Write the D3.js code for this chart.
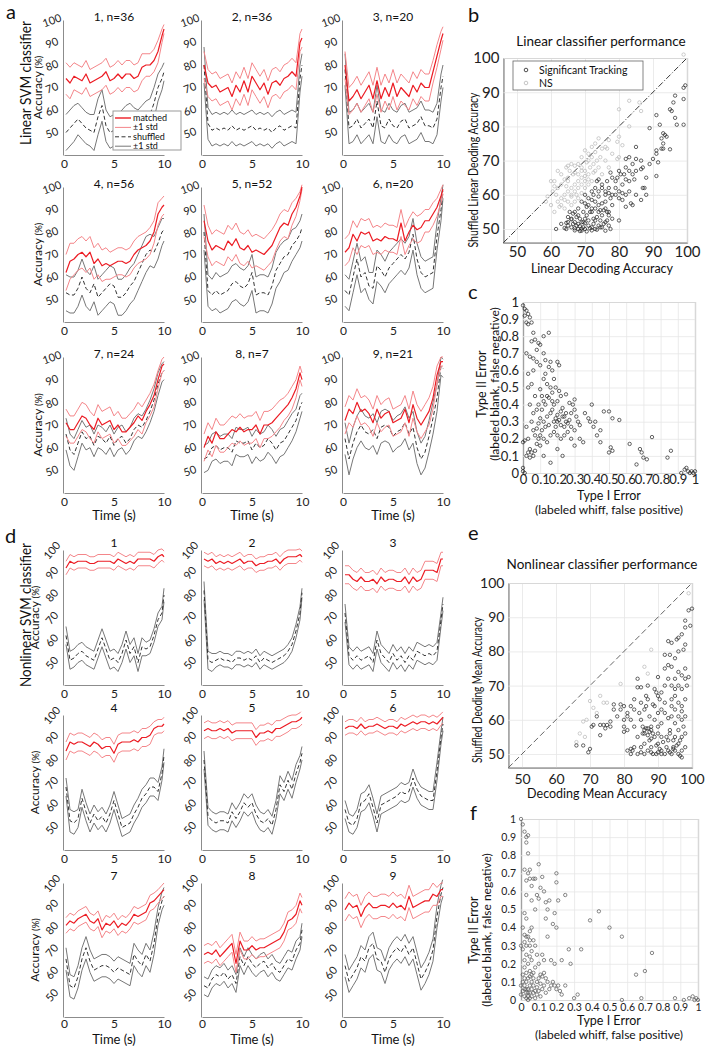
<!DOCTYPE html>
<html>
<head>
<meta charset="utf-8">
<script src="https://cdn.jsdelivr.net/npm/d3@7/dist/d3.min.js"></script>
<style>
  body { margin: 0; background: #fff; }
  svg { display: block; font-family: Lato, "Open Sans", sans-serif; }
</style>
</head>
<body>
<svg id="fig" width="711" height="1050"></svg>
<script>
// ---------- data ----------
const timeS = [0.2,0.6,1.0,1.4,1.8,2.2,2.6,3.0,3.4,3.8,4.2,4.6,5.0,5.4,5.8,6.2,6.6,7.0,7.4,7.8,8.2,8.6,9.0,9.4,9.8,10.0];
const linTitles = ["1, n=36","2, n=36","3, n=20","4, n=56","5, n=52","6, n=20","7, n=24","8, n=7","9, n=21"];
const nonTitles = ["1","2","3","4","5","6","7","8","9"];
const accTicks = [50,60,70,80,90,100];
const timeTicks = [0,5,10];

const linMatchedMean = [
  [74,72,75,74,73,76,72,73,74,75,77,73,74,76,74,76,76,74,75,79,80,80,82,86,93,96],
  [80,72,70,71,68,69,70,66,71,68,73,68,75,72,69,72,67,72,73,71,74,75,77,75,90,92],
  [80,64,66,69,65,68,71,65,73,65,70,66,72,66,70,68,66,71,68,72,70,70,77,84,91,94],
  [62,67,68,70,71,69,71,66,68,65,66,65,66,67,67,66,67,70,72,73,74,76,80,88,91,92],
  [85,76,72,74,73,72,76,74,77,73,72,74,71,72,71,70,72,74,78,82,84,83,88,91,96,100],
  [71,73,79,76,80,79,80,76,77,76,78,77,77,76,84,76,80,83,81,82,85,85,88,91,96,99],
  [71,68,68,71,74,73,70,68,73,70,71,72,68,70,67,67,69,71,74,72,76,79,83,90,96,97],
  [60,65,62,67,64,64,66,68,67,69,67,68,68,70,66,70,70,71,73,75,77,79,82,86,93,90],
  [72,77,75,80,76,77,75,71,77,73,75,76,71,72,73,77,71,79,73,70,73,76,82,92,98,98]
];
const linMatchedStd = [
  [7,7,6,6,6,6,6,6,6,6,6,6,6,6,6,6,6,6,6,6,5,5,5,5,3,2],
  [6,6,6,6,6,6,6,6,6,6,6,6,6,6,6,6,6,6,6,6,6,6,6,6,4,4],
  [6,6,6,6,6,6,6,6,6,6,6,6,6,6,6,6,6,6,6,6,6,6,5,5,4,3],
  [8,8,7,7,7,7,7,7,7,7,7,6,6,6,6,6,6,6,6,6,6,6,5,5,4,4],
  [7,7,7,7,7,7,7,7,7,7,7,7,7,7,7,7,7,7,6,6,6,6,5,4,2,1],
  [6,6,6,6,6,6,6,6,6,6,6,6,6,6,6,6,6,6,6,6,5,5,5,4,3,2],
  [6,6,6,6,6,6,6,6,6,6,6,6,6,6,6,6,6,6,6,6,5,5,5,4,3,3],
  [6,6,6,6,6,6,6,6,6,6,6,6,6,6,6,6,6,6,6,6,5,5,5,4,3,3],
  [6,6,6,6,6,6,6,6,6,6,6,6,6,6,6,6,6,6,6,6,6,6,5,4,2,2]
];
const linShuffledMean = [
  [50,52,54,56,54,52,51,50,57,62,53,50,51,51,53,55,56,54,53,55,57,58,63,70,74,77],
  [80,54,51,52,51,52,51,53,51,52,51,52,53,51,52,51,52,50,52,53,51,52,53,52,74,80],
  [78,52,53,56,52,54,56,52,64,53,52,56,53,52,55,56,52,53,54,57,53,53,52,56,70,75],
  [53,52,52,55,60,55,53,57,51,53,55,57,56,51,51,53,56,58,62,66,70,72,71,75,80,81],
  [80,54,52,54,52,53,54,57,58,56,55,57,62,52,53,53,52,56,63,66,69,70,74,76,79,82],
  [54,52,60,68,60,62,56,55,65,63,60,64,66,68,70,68,71,79,68,62,60,61,62,78,90,98],
  [66,59,57,62,67,64,65,61,65,64,62,65,61,64,65,62,64,68,70,69,72,76,81,88,93,94],
  [55,56,60,61,59,60,60,58,63,62,62,63,59,62,60,61,64,62,59,62,63,66,69,72,78,80],
  [64,55,62,67,70,67,66,68,64,69,70,69,65,67,68,71,66,69,60,55,58,65,73,82,96,95]
];
const linShuffledStd = [
  [8,8,8,7,7,7,7,8,8,7,7,7,7,7,7,7,7,7,7,7,7,7,7,6,5,4],
  [8,7,7,7,7,7,7,7,7,7,7,7,7,7,7,7,7,7,7,7,7,7,7,7,6,5],
  [7,7,7,7,7,7,7,7,7,7,7,7,7,7,7,7,7,7,7,7,7,7,7,7,6,5],
  [8,8,8,8,8,8,8,8,8,8,8,8,8,8,8,8,8,8,8,8,8,7,7,7,6,5],
  [8,7,7,8,8,8,8,8,8,8,8,8,8,8,8,8,8,8,8,8,7,7,7,6,6,6],
  [7,7,7,7,7,7,6,7,7,7,7,7,7,7,7,7,7,7,7,7,7,7,7,6,5,3],
  [7,7,7,6,5,5,5,5,5,5,5,5,5,5,5,5,5,5,5,5,5,5,5,5,4,4],
  [6,6,6,6,6,6,6,6,6,6,6,6,6,6,6,6,6,6,6,6,6,6,6,5,5,4],
  [7,7,7,7,7,7,7,7,7,7,7,7,7,7,7,7,7,7,7,7,7,7,7,6,4,4]
];

const nonMatchedMean = [
  [92,95,94,95,95,95,94,94,95,95,95,95,94,96,95,94,95,94,96,96,96,96,95,97,98,97],
  [96,95,96,94,95,94,95,94,95,96,94,95,95,93,94,94,95,95,96,94,96,97,97,97,98,97],
  [89,89,87,86,88,86,86,87,85,88,86,87,87,86,86,88,85,88,86,87,91,91,91,90,96,96],
  [84,88,87,88,88,87,86,88,87,85,86,86,83,87,88,88,88,89,88,90,90,91,94,95,95,96],
  [93,94,93,93,94,93,94,92,93,93,93,93,93,90,92,92,93,92,94,94,95,96,97,97,98,99],
  [94,95,95,94,96,94,95,95,96,95,94,95,95,94,96,95,96,97,96,97,97,96,97,96,98,99],
  [81,83,82,84,85,86,83,82,84,79,82,81,83,80,82,81,83,86,85,86,87,91,92,94,96,97],
  [68,69,68,70,67,69,71,73,64,74,70,70,72,70,71,71,72,73,74,75,78,83,84,86,92,90],
  [88,91,89,90,85,89,91,89,89,90,90,89,91,89,90,88,94,89,90,91,92,92,95,94,97,97]
];
const nonMatchedStd = [
  [3,3,3,3,3,3,3,3,3,3,3,3,3,3,3,3,3,3,3,3,3,3,3,3,2.5,2.5],
  [3,3,3,3,3,3,3,3,3,3,3,3,3,3,3,3,3,3,3,3,3,3,3,3,2.5,2.5],
  [4,4,4,4,4,4,4,4,4,4,4,4,4,4,4,4,4,4,4,4,4,4,4,4,3,3],
  [4,4,4,4,4,4,4,4,4,4,4,4,4,4,4,4,4,4,4,4,4,4,3,3,3,3],
  [3.5,3.5,3.5,3.5,3.5,3.5,3.5,3.5,3.5,3.5,3.5,3.5,3.5,3.5,3.5,3.5,3.5,3.5,3.5,3.5,3.5,3.5,3,3,3,3],
  [3,3,3,3,3,3,3,3,3,3,3,3,3,3,3,3,3,3,3,3,3,3,3,3,2.5,2.5],
  [3.5,3.5,3.5,3.5,3.5,3.5,3.5,3.5,3.5,3.5,3.5,3.5,3.5,3.5,3.5,3.5,3.5,3.5,3.5,3.5,3.5,3.5,3.5,3,3,3],
  [4,4,4,4,4,4,4,4,4,4,4,4,4,4,4,4,4,4,4,4,4,4,4,4,3.5,3.5],
  [5,5,5,5,5,5,5,5,5,5,5,5,5,5,5,5,5,5,5,5,5,5,5,4,3,3]
];
const nonShuffledMean = [
  [62,51,52,54,55,53,52,51,56,61,56,51,52,50,54,60,54,57,50,57,56,57,62,69,72,80],
  [82,51,50,51,52,51,51,50,52,52,51,52,51,53,50,52,51,50,51,52,53,55,58,64,72,81],
  [72,53,51,53,51,52,53,50,60,54,52,50,54,51,53,50,53,51,55,54,53,54,53,55,69,76],
  [68,53,52,54,63,57,52,56,53,55,52,56,62,56,50,51,52,56,59,63,65,68,68,66,74,82],
  [80,55,53,52,53,53,52,57,54,57,61,59,61,56,53,52,54,51,58,69,66,71,67,74,79,83],
  [58,52,51,54,61,62,65,59,52,60,61,62,63,64,66,65,66,72,67,64,63,62,62,75,90,96],
  [66,54,53,58,66,71,65,61,62,63,63,62,60,62,61,60,59,68,65,63,68,65,73,85,92,94],
  [54,53,57,59,58,60,57,59,55,67,63,67,64,62,64,65,62,64,61,60,63,66,65,70,73,79],
  [63,56,59,62,67,65,71,73,66,65,60,66,69,71,69,72,68,71,64,57,60,64,70,85,95,98]
];
const nonShuffledStd = [
  [4,4,4,4,4,4,4,4,4,4,4,4,4,4,4,4,4,4,4,4,3,3,3,3,3,3],
  [4,4,4,3,3,3,3,3,3,3,3,3,3,3,3,3,3,3,3,3,3,3,3,3,3,2],
  [4,4,4,4,4,4,4,4,4,4,4,4,4,4,4,4,4,4,4,4,4,4,4,4,3,3],
  [4,5,5,4,4,4,4,4,4,4,4,4,4,4,4,4,4,4,4,4,4,4,4,4,3,3],
  [4,4,4,4,4,4,4,4,4,4,4,4,4,4,4,4,4,4,4,4,4,4,4,4,3,3],
  [4,4,4,4,4,4,4,4,4,4,4,4,4,4,4,4,4,4,4,4,4,4,4,4,3,3],
  [5,5,5,5,5,5,5,5,5,5,5,5,5,5,5,5,5,5,5,5,5,5,5,4,4,4],
  [4,4,4,4,4,4,4,4,4,4,4,4,4,4,4,4,4,4,4,4,4,4,4,4,3,3],
  [5,5,5,5,5,5,5,5,5,5,5,5,5,5,5,5,5,5,5,5,5,5,5,5,4,4]
];

// panel b: linear decoding vs shuffled
const linSig = [[99.5,92],[99,91.3],[96.5,89],[96,87],[99,88],[95,85],[95.5,84.5],[96.5,82.5],[97,80.5],[99,80.5],[91,83.3],[89,79.5],[92,80.5],[93,78],[93.5,77.5],[92.5,76.5],[94,77],[93,75],[91,73],[91,72],[92.5,73.5],[93,73.5],[95,73.3],[91.5,69.5],[90,70.5],[89,69],[91,65.5],[88,65],[87,68],[86.5,67.5],[85,74],[86.5,70],[82,70.5],[83,71],[84,66],[85,67],[80,67],[79.5,65],[80.5,66],[81.5,66],[81,63],[82,64.5],[83,64],[84.5,64.5],[87,62],[87.5,62],[86.5,58.5],[83,61],[82,60],[81,58.5],[83.5,57.5],[82,56.5],[80,52.5],[79,64],[78,65],[77.5,66.5],[76.5,64],[77,62],[76,61],[78,60],[79,62],[77.5,59],[76,58],[75,62],[74,61],[73.5,64],[72.5,60],[73,58],[72,58.5],[71,57],[71.5,55],[72,56],[72.5,53],[73,52.5],[74,55],[74.5,55.5],[75,54],[76,52],[77,51],[76,49.5],[77.5,50],[75,50.5],[74,51],[73,50],[72,50.5],[71,51],[70,50],[69.5,50.5],[69,49.5],[68,50],[67,50.2],[66,50.5],[65,51],[64.5,50],[64,50.3],[61.5,50],[63,51.5],[65,52],[66,53],[67,52],[68,51.5],[69,52],[70,53],[70.5,54],[71,52.5],[69.5,55],[68,54],[67,55],[66,52.8],[65,53.5],[64.5,51.8],[66.5,51.5],[67.5,51],[68.5,50.8],[70,51.7],[71.5,50.2],[72.5,51.5],[73.5,53.5],[74.5,52.5],[75.5,55.5],[74,57],[73,56],[72,55],[70.5,56.5],[70,57.5],[71,59],[72,61],[73,62],[74,59.5],[75,57.5],[76,56],[77,55],[78,53],[77,54],[76.5,55],[69.5,52],[68.5,53],[67.5,53.5],[66.5,54.5],[65.5,55],[68,56],[69,58],[70,60],[69,50.1],[67,49.6],[68.5,49.4],[70.5,49.3],[72,49.6],[73.5,49.8],[74.5,50.5],[75.5,51.5],[76.5,52.5],[74,64.5],[75,63],[76,60],[77,60.5],[78,57],[79,60],[80,61],[80,59],[81,60.5],[84,57],[85,60],[88,60],[83,67],[82,68],[84,69],[85,70.5]];
const linNS = [[99,101],[80,85],[83,87.5],[86,87],[86.5,84.5],[83,80],[80,77],[79.5,75.5],[81,74.5],[80,71],[79.5,70.5],[77,76],[76,74],[75,73.5],[76.5,73.5],[74,76.5],[73,75],[72,74],[73,72.5],[72,71],[71,72],[70,73],[69,71],[70.5,69.5],[71.5,68],[72.5,69],[73.5,70],[74.5,71],[74,68],[72.5,66.5],[71,66],[70,67],[69,68],[68,69],[67,68.5],[66,69],[65,68.5],[64.5,68],[65.5,67],[66.5,66],[65,65],[64,64.5],[64.5,62.5],[63,63],[62,62],[61,64],[60,64],[60.5,61],[61.5,60],[62,58],[63,59],[64,60],[65,61],[66,62],[67,63],[68,64],[69,65],[70,64],[71,63],[68,62],[67,61],[66,59.5],[65,58],[67,58],[68,59],[69,60.5],[66,57],[64,56],[60,57],[59,59.5],[58.5,58],[61,55],[62.5,56.5],[63,57],[65,64],[67,66.5],[68,66],[69,67],[70,65.5],[71,64.5],[72,64],[62,67],[63,66],[66,60],[64,58.5],[67.5,60],[70,62],[69,63],[61,62.5],[71,70],[73,67],[75,66],[77,68],[78,72],[76,70]];

// panel c: linear type I / type II errors
const linErr = [[0,0.98],[0.01,0.96],[0.02,0.95],[0.03,0.93],[0.01,0.92],[0.04,0.91],[0.02,0.88],[0.03,0.87],[0.05,0.88],[0.06,0.82],[0.07,0.78],[0.05,0.77],[0.09,0.76],[0.08,0.72],[0.1,0.75],[0.12,0.8],[0.02,0.7],[0.04,0.68],[0.06,0.67],[0.03,0.58],[0.06,0.6],[0.08,0.65],[0.1,0.63],[0.12,0.7],[0.13,0.66],[0.15,0.62],[0.16,0.65],[0.17,0.6],[0.2,0.65],[0.21,0.63],[0.18,0.55],[0.12,0.55],[0.13,0.58],[0.14,0.52],[0.16,0.5],[0.1,0.49],[0.11,0.45],[0.12,0.42],[0.13,0.4],[0.15,0.44],[0.17,0.47],[0.19,0.5],[0.21,0.48],[0.22,0.45],[0.2,0.42],[0.18,0.4],[0.17,0.37],[0.16,0.35],[0.14,0.33],[0.12,0.3],[0.1,0.32],[0.08,0.37],[0.09,0.4],[0.07,0.45],[0.05,0.52],[0.03,0.5],[0.04,0.4],[0.06,0.35],[0.05,0.3],[0.02,0.27],[0.03,0.2],[0.01,0.19],[0,0.18],[0.02,0.1],[0.05,0.12],[0.04,0.09],[0.06,0.1],[0.07,0.13],[0.08,0.17],[0.09,0.2],[0.1,0.22],[0.11,0.25],[0.13,0.27],[0.15,0.28],[0.18,0.3],[0.19,0.32],[0.2,0.34],[0.22,0.36],[0.23,0.38],[0.24,0.33],[0.25,0.3],[0.26,0.29],[0.27,0.31],[0.28,0.35],[0.29,0.4],[0.3,0.37],[0.31,0.33],[0.32,0.3],[0.33,0.28],[0.3,0.25],[0.28,0.27],[0.26,0.24],[0.24,0.22],[0.22,0.2],[0.2,0.22],[0.18,0.24],[0.16,0.22],[0.14,0.18],[0.12,0.2],[0.1,0.16],[0.07,0.22],[0.08,0.26],[0.12,0.1],[0.16,0.06],[0.2,0.14],[0.23,0.1],[0.28,0.2],[0.3,0.16],[0.33,0.2],[0.35,0.18],[0.36,0.35],[0.38,0.32],[0.39,0.3],[0.4,0.4],[0.42,0.3],[0.41,0.27],[0.43,0.22],[0.45,0.25],[0.45,0.18],[0.47,0.36],[0.5,0.12],[0.51,0.15],[0.52,0.13],[0.5,0.36],[0.52,0.32],[0.56,0.31],[0.62,0.17],[0.66,0.05],[0.68,0.14],[0.69,0.12],[0.7,0.09],[0.72,0.08],[0.75,0.21],[0.84,0.09],[0.86,0.13],[0.92,0],[0.94,0.02],[0.95,0.03],[0.96,0.01],[0.97,0],[0.98,0.01],[0.99,0],[1,0.01],[0,0.03],[0,0.01],[0.01,0],[0.15,0.82],[0.25,0.46],[0.27,0.41],[0.3,0.43],[0.2,0.3],[0.22,0.28],[0.24,0.27],[0.19,0.27],[0.21,0.31],[0.23,0.33],[0.25,0.35],[0.17,0.42],[0.14,0.45],[0.11,0.37],[0.09,0.29],[0.06,0.25],[0.04,0.14],[0.03,0.12]];

// panel e: nonlinear decoding vs shuffled
const nonSig = [[66,52.5],[68,52.5],[69.5,50.5],[70,51.5],[70.5,58],[71,58.5],[72,61],[73,55.5],[73,58.5],[74,58.5],[74.5,57.5],[76,59.5],[77,64.5],[78,61],[79,64.5],[80,64],[80,58],[80,56.5],[81,62],[81,57],[82,60],[82,64],[83,66],[83,63],[82.5,51],[82,50],[83,52],[84,72],[84,69.5],[84.5,62],[85,65],[85,60],[85.5,58],[84,55],[85,52],[86,50],[86,53],[86,57],[86,63],[86.5,67],[87,70],[87,66],[87.5,61],[87,57.5],[88,57],[88.5,56],[87.5,54],[88,52],[88.5,50],[89,60],[89,64],[89.5,68],[90,72.5],[90.5,66],[90,62],[90,56],[90,53],[89.5,50],[91,51],[91,55],[91,59],[91,63],[92,65],[92,70],[93,72],[92,79],[93,76],[93,83],[93.5,79],[94,82.5],[94,70],[94,66],[94,61],[93.5,57],[93,54],[93,51],[92,50],[94,50],[94.5,52],[95,55],[95,59],[95,63],[95,67],[95,72],[95,78],[95.5,83.5],[96,84],[96,74],[96,70],[96,65],[96,61],[96,57],[96,53],[96,50],[96.5,49.5],[97,49],[97,51],[97,55],[97,60],[97,64],[97,69],[97,73],[97,85],[97.5,80.5],[98,82],[98,87],[98,89],[98,75],[98,72],[98.5,70],[98,66],[98,61],[98,56],[98,52],[99,72.5],[99,92],[99.5,87.5],[100,92.5],[95,51],[94.5,51.5],[93.5,50.5],[92.5,52],[91.5,53.5],[90.5,51.5],[89.5,52.5],[88,54.5],[87,55.5],[86.5,57.5],[85.5,56],[87,51],[88,50.5],[90,50.5],[91,50],[92.5,55],[93.5,56],[94.5,54],[95.5,52.5],[96.5,54],[97.5,58],[97,62.5],[94,64],[93,60.5],[92,62],[90,58],[89,55],[85,50.5],[84,50],[86,56],[88,58],[87.5,56.5],[86.5,64],[88.5,64.5],[89,69],[91,68],[92,75],[94,75.5],[95,69],[96,80],[90,67],[85,69.5],[76,58],[75,58.5],[77,63],[79,63],[80,60],[81,61],[83,58],[81,51],[82,51.5]];
const nonNS = [[66,53.5],[67,56],[68,59.5],[69,60],[68.5,55],[70,65.5],[71,63.5],[72,62],[73,67],[74,65],[75,65],[79,70.5],[86,75.5],[87,73.5],[88,80.5],[99,97]];

// panel f: nonlinear type I / type II errors
const nonErr = [[0,1],[0.01,0.97],[0.02,0.93],[0.03,0.9],[0.04,0.91],[0.03,0.87],[0.04,0.81],[0.02,0.72],[0.03,0.66],[0.04,0.7],[0.05,0.72],[0.05,0.67],[0.06,0.63],[0.07,0.67],[0.08,0.67],[0.1,0.75],[0.12,0.68],[0.11,0.62],[0.09,0.58],[0.1,0.56],[0.08,0.5],[0.06,0.55],[0.03,0.58],[0.02,0.48],[0.03,0.45],[0.01,0.4],[0.02,0.36],[0.03,0.3],[0.04,0.35],[0.05,0.38],[0.06,0.4],[0.07,0.33],[0.05,0.3],[0.03,0.25],[0.02,0.22],[0.04,0.2],[0.05,0.24],[0.06,0.27],[0.08,0.3],[0.09,0.25],[0.1,0.2],[0.08,0.18],[0.07,0.15],[0.05,0.16],[0.04,0.12],[0.03,0.1],[0.02,0.08],[0.01,0.05],[0,0.03],[0.02,0.02],[0.03,0.04],[0.04,0.06],[0.05,0.08],[0.06,0.1],[0.07,0.12],[0.06,0.06],[0.05,0.04],[0.04,0.02],[0.03,0.06],[0.02,0.12],[0.01,0.14],[0.03,0.15],[0.05,0.13],[0.07,0.08],[0.08,0.05],[0.09,0.1],[0.1,0.12],[0.11,0.14],[0.12,0.13],[0.13,0.15],[0.14,0.12],[0.15,0.1],[0.13,0.08],[0.12,0.06],[0.1,0.05],[0.09,0.03],[0.11,0.02],[0.14,0.04],[0.16,0.06],[0.17,0.08],[0.18,0.1],[0.19,0.08],[0.2,0.06],[0.21,0.08],[0.22,0.05],[0.23,0.03],[0.25,0.08],[0.28,0.2],[0.27,0.28],[0.25,0.58],[0.2,0.7],[0.2,0.65],[0.21,0.55],[0.19,0.48],[0.18,0.42],[0.2,0.4],[0.15,0.5],[0.14,0.54],[0.16,0.55],[0.13,0.6],[0.14,0.45],[0.15,0.35],[0.12,0.25],[0.13,0.22],[0.17,0.22],[0.19,0.2],[0.23,0.22],[0.3,0.01],[0.32,0.03],[0.34,0.28],[0.39,0.44],[0.44,0.49],[0.5,0.4],[0.57,0.35],[0.65,0.14],[0.7,0.16],[0.74,0.26],[0.57,0],[0.68,0.01],[0.87,0.01],[0.92,0],[0.95,0.01],[0.97,0.02],[0.98,0],[0.99,0.01],[1,0],[0.04,0],[0.06,0.02],[0.08,0.01],[0.01,0.28],[0.02,0.32],[0,0.3],[0.03,0.35],[0.05,0.33],[0.06,0.22],[0.02,0.18],[0.01,0.1],[0,0.08],[0.06,0.14],[0.07,0.04],[0.09,0.07],[0.11,0.09],[0.03,0.01],[0.05,0.01],[0.04,0.04],[0.02,0.06]];

const accGrid = [50,60,70,80,90,100];
const errTicks = [0,0.1,0.2,0.3,0.4,0.5,0.6,0.7,0.8,0.9,1];

// ---------- styling / layout ----------
const FONT = "Lato, 'Open Sans', sans-serif";
const RED = "#ec1c24", RED_LIGHT = "#f4868a", DARK = "#333", GREY = "#777", AXIS = "#8c8c8c", GRID = "#e6e6e6";
const COLS = [[64,164],[202,302],[343,443]];
const LIN_ROWS = [[20,155],[187,322],[357,493]];
const NON_ROWS = [[550,685],[715,850],[883,1017]];

const svg = d3.select("#fig");
const defs = svg.append("defs");
let clipId = 0;

function text(g, x, y, str, size, opts = {}) {
  const t = g.append("text")
    .attr("x", x).attr("y", y)
    .attr("font-size", size)
    .attr("text-anchor", opts.anchor || "middle")
    .attr("fill", opts.fill || "#111")
    .attr("transform", opts.rotate ? `rotate(${opts.rotate},${x},${y})` : null)
    .text(str);
  if (opts.len) t.attr("textLength", opts.len).attr("lengthAdjust", "spacingAndGlyphs");
  return t;
}

function drawTimePanel(cfg) {
  const x = d3.scaleLinear().domain([0, 10]).range(cfg.xr);
  const y = d3.scaleLinear().domain([40, 100]).range([cfg.yr[1], cfg.yr[0]]);
  const g = svg.append("g");

  // axes
  const ya = g.append("g").attr("transform", `translate(${cfg.xr[0] - 1},0)`)
    .call(d3.axisLeft(y).tickValues(accTicks).tickSize(0).tickPadding(0));
  ya.select(".domain").attr("stroke", AXIS);
  ya.selectAll("text")
    .attr("font-size", 11).attr("font-family", FONT).attr("fill", "#222")
    .attr("text-anchor", "middle").attr("x", -11).attr("dy", "0.35em")
    .attr("transform", `rotate(${cfg.rot},-11,0)`);

  const xa = g.append("g").attr("transform", `translate(0,${cfg.yr[1]})`)
    .call(d3.axisBottom(x).tickValues(timeTicks).tickSize(0).tickPadding(cfg.xPad || 4));
  xa.select(".domain").attr("stroke", AXIS);
  xa.selectAll("text").attr("font-size", 12).attr("font-family", FONT).attr("fill", "#222");

  const cid = "clip" + (clipId++);
  defs.append("clipPath").attr("id", cid).append("rect")
    .attr("x", cfg.xr[0]).attr("y", y(101.5))
    .attr("width", cfg.xr[1] - cfg.xr[0] + 2).attr("height", y(40) - y(101.5));
  const lines = g.append("g").attr("clip-path", `url(#${cid})`);

  const line = d3.line().x((d, i) => x(timeS[i])).y(d => y(d));
  const band = (m, s, sign) => m.map((v, i) => v + sign * s[i]);

  const series = [
    { v: band(cfg.sm, cfg.ss, 1), c: GREY, w: 1 },
    { v: band(cfg.sm, cfg.ss, -1), c: GREY, w: 1 },
    { v: cfg.sm, c: DARK, w: 1, dash: "4,2.5" },
    { v: band(cfg.mm, cfg.ms, 1), c: RED_LIGHT, w: 1 },
    { v: band(cfg.mm, cfg.ms, -1), c: RED_LIGHT, w: 1 },
    { v: cfg.mm, c: RED, w: 1.2 },
  ];
  series.forEach(s => {
    lines.append("path").attr("d", line(s.v))
      .attr("fill", "none").attr("stroke", s.c).attr("stroke-width", s.w)
      .attr("stroke-dasharray", s.dash || null).attr("stroke-linejoin", "round");
  });

  text(g, (cfg.xr[0] + cfg.xr[1]) / 2, cfg.titleY, cfg.title, 12);
  if (cfg.timeLabel) text(g, (cfg.xr[0] + cfg.xr[1]) / 2, cfg.yr[1] + cfg.timeLabel, "Time (s)", 13);
  if (cfg.accLabel) {
    const cy = (cfg.yr[0] + cfg.yr[1]) / 2;
    const t = g.append("text").attr("transform", `translate(${cfg.accLabel},${cy}) rotate(-90)`)
      .attr("text-anchor", "middle").attr("fill", "#111");
    t.append("tspan").attr("font-size", 12).text("Accuracy ");
    t.append("tspan").attr("font-size", 9.5).text("(%)");
  }
  return g;
}

// ---------- panel a (linear) and d (nonlinear) ----------
for (let i = 0; i < 9; i++) {
  const r = Math.floor(i / 3), c = i % 3;
  const ga = drawTimePanel({
    xr: COLS[c], yr: LIN_ROWS[r], rot: -20,
    mm: linMatchedMean[i], ms: linMatchedStd[i], sm: linShuffledMean[i], ss: linShuffledStd[i],
    title: linTitles[i], titleY: LIN_ROWS[r][0] + 1,
    accLabel: c === 0 ? 42 : null, timeLabel: r === 2 ? 27 : null,
  });
  if (i === 0) {
    // legend for panel a1
    const lg = ga.append("g");
    lg.append("rect").attr("x", 113).attr("y", 111).attr("width", 68).attr("height", 39)
      .attr("fill", "#fff").attr("stroke", "#999").attr("stroke-width", 1);
    const entries = [
      { label: "matched", c: RED, w: 1.4 },
      { label: "\u00b11 std", c: RED_LIGHT, w: 1 },
      { label: "shuffled", c: DARK, w: 1, dash: "4,2.5" },
      { label: "\u00b11 std", c: GREY, w: 1 },
    ];
    entries.forEach((e, k) => {
      const yy = 118 + k * 9.4;
      lg.append("line").attr("x1", 115).attr("x2", 131).attr("y1", yy).attr("y2", yy)
        .attr("stroke", e.c).attr("stroke-width", e.w).attr("stroke-dasharray", e.dash || null);
      text(lg, 133, yy + 3, e.label, 9, { anchor: "start" });
    });
  }
  drawTimePanel({
    xr: COLS[c], yr: NON_ROWS[r], rot: -50,
    mm: nonMatchedMean[i], ms: nonMatchedStd[i], sm: nonShuffledMean[i], ss: nonShuffledStd[i],
    title: nonTitles[i], titleY: NON_ROWS[r][0] - 3,
    accLabel: c === 0 ? 39 : null, timeLabel: r === 2 ? 27 : null,
    xPad: r === 2 ? 2 : 4,
  });
}

text(svg, 31, 83, "Linear SVM classifier", 15.5, { rotate: -90, len: 124 });
text(svg, 31, 615, "Nonlinear SVM classifier", 15.5, { rotate: -90, len: 144 });

// ---------- scatter panels ----------
function drawScatter(cfg) {
  const g = svg.append("g");
  const x = d3.scaleLinear().domain(cfg.xd).range(cfg.xr);
  const y = d3.scaleLinear().domain(cfg.yd).range(cfg.yr);
  const w = cfg.xr[1] - cfg.xr[0], h = cfg.yr[0] - cfg.yr[1];

  const xa = g.append("g").attr("transform", `translate(0,${cfg.yr[0]})`)
    .call(d3.axisBottom(x).tickValues(cfg.ticks).tickSize(-h).tickPadding(cfg.xPad).tickFormat(cfg.fmt));
  const ya = g.append("g").attr("transform", `translate(${cfg.xr[0]},0)`)
    .call(d3.axisLeft(y).tickValues(cfg.ticks).tickSize(-w).tickPadding(cfg.yPad).tickFormat(cfg.fmt));
  [xa, ya].forEach(a => {
    a.selectAll(".tick line").attr("stroke", GRID).attr("stroke-width", 0.8);
    a.select(".domain").attr("stroke", "#a0a0a0").attr("stroke-width", 1.2);
    a.selectAll("text").attr("font-size", cfg.tickSize).attr("fill", "#222").attr("font-family", FONT);
  });

  if (cfg.diag) {
    g.append("line")
      .attr("x1", x(cfg.xd[0])).attr("y1", y(cfg.yd[0]))
      .attr("x2", x(cfg.xd[1])).attr("y2", y(cfg.yd[1]))
      .attr("stroke", cfg.diag.c).attr("stroke-width", 0.9).attr("stroke-dasharray", cfg.diag.dash);
  }

  cfg.sets.forEach(s => {
    g.append("g").selectAll("circle").data(s.pts).join("circle")
      .attr("cx", d => x(d[0])).attr("cy", d => y(d[1])).attr("r", 1.7)
      .attr("fill", "none").attr("stroke", s.c).attr("stroke-width", 0.7);
  });
  return { g, x, y };
}

const accFmt = d3.format("d");
const errFmt = v => (v === 0 ? "0" : v === 1 ? "1" : v.toFixed(1));

// b
drawScatter({
  xd: [46, 100], yd: [46, 100], xr: [503.4, 687], yr: [242.7, 58],
  ticks: accGrid, fmt: accFmt, tickSize: 15, xPad: 4, yPad: 4,
  diag: { c: "#222", dash: "6,2,1,2" },
  sets: [{ pts: linNS, c: "#b8b8b8" }, { pts: linSig, c: "#222" }],
});
text(svg, 601, 46, "Linear classifier performance", 13.5);
text(svg, 602, 273, "Linear Decoding Accuracy", 12.5);
text(svg, 478, 170, "Shuffled Linear Deoding Accuracy", 12.5, { rotate: -90, len: 155 });
{
  const lg = svg.append("g");
  lg.append("rect").attr("x", 513).attr("y", 61).attr("width", 130).attr("height", 29)
    .attr("fill", "#fff").attr("stroke", "#666").attr("stroke-width", 0.8);
  [["Significant Tracking", "#222"], ["NS", "#b8b8b8"]].forEach(([lab, c], k) => {
    const yy = 70 + k * 13;
    lg.append("circle").attr("cx", 526).attr("cy", yy).attr("r", 1.8)
      .attr("fill", "none").attr("stroke", c).attr("stroke-width", 0.8);
    text(lg, 539, yy + 3.5, lab, 10.5, { anchor: "start" });
  });
}

// c
drawScatter({
  xd: [0, 1], yd: [0, 1], xr: [523, 695], yr: [473, 302],
  ticks: errTicks, fmt: errFmt, tickSize: 13, xPad: 2, yPad: 4,
  sets: [{ pts: linErr, c: "#222" }],
});
text(svg, 609, 500, "Type I Error", 12.5);
text(svg, 609, 514, "(labeled whiff, false positive)", 12);
text(svg, 486, 384, "Type II Error", 12.5, { rotate: -90 });
text(svg, 499, 384, "(labeled blank, false negative)", 12, { rotate: -90 });

// e
drawScatter({
  xd: [46, 100], yd: [46, 100], xr: [508.4, 692], yr: [767.7, 583],
  ticks: accGrid, fmt: accFmt, tickSize: 14, xPad: 6, yPad: 4,
  diag: { c: "#555", dash: "6,3" },
  sets: [{ pts: nonNS, c: "#b8b8b8" }, { pts: nonSig, c: "#222" }],
});
text(svg, 602, 569, "Nonlinear classifier performance", 13.5);
text(svg, 597, 798, "Decoding Mean Accuracy", 12.5);
text(svg, 482, 690, "Shuffled Deoding Mean Accuracy", 12.5, { rotate: -90, len: 146 });

// f
drawScatter({
  xd: [0, 1], yd: [0, 1], xr: [521, 698], yr: [1000, 819],
  ticks: errTicks, fmt: errFmt, tickSize: 10.5, xPad: 4, yPad: 5,
  sets: [{ pts: nonErr, c: "#555" }],
});
text(svg, 609, 1025, "Type I Error", 12.5);
text(svg, 609, 1039, "(labeled whiff, false positive)", 12);
text(svg, 478, 930, "Type II Error", 12.5, { rotate: -90 });
text(svg, 491, 930, "(labeled blank, false negative)", 12, { rotate: -90 });

// panel letters
[["a", 6, 19], ["b", 468, 22], ["c", 468, 299], ["d", 5, 543], ["e", 468, 540], ["f", 470, 820]]
  .forEach(([l, x, y]) => text(svg, x, y, l, 20, { anchor: "start" }));
</script>
</body>
</html>
